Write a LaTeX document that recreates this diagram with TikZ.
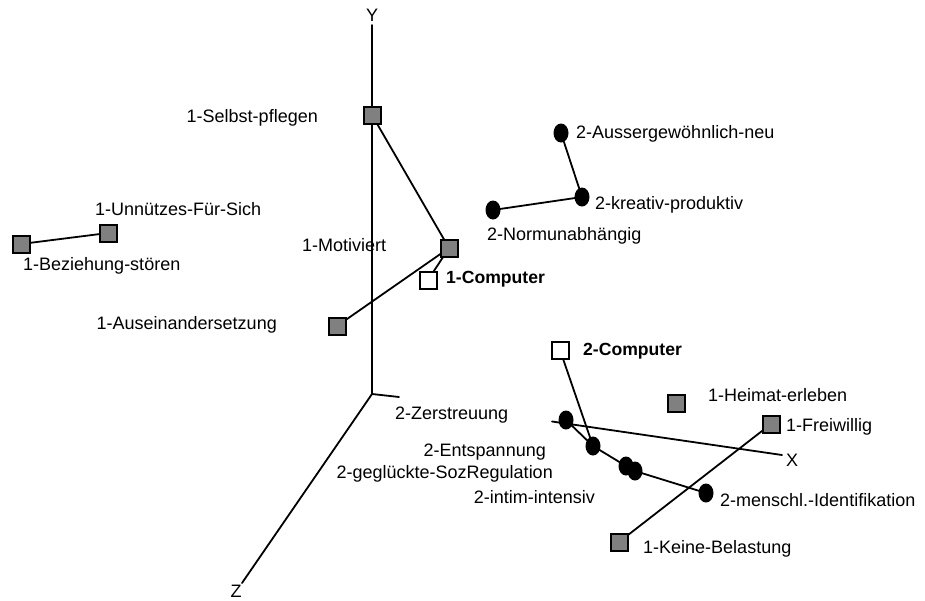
\documentclass[tikz,border=0pt]{standalone}
\usepackage{fontspec}
\setmainfont{Liberation Sans}
\usetikzlibrary{shapes.geometric}
\pgfdeclarelayer{bg}
\pgfsetlayers{bg,main}
\definecolor{boxgray}{HTML}{808080}
\begin{document}
\begin{tikzpicture}[x=1pt,y=-1pt,
  lbl/.style={inner sep=0pt, font=\fontsize{18}{20}\selectfont},
  bold/.style={lbl, font=\fontsize{17.6}{20}\selectfont\bfseries},
  sq/.style={rectangle, draw=black, line width=2pt, fill=boxgray, minimum size=17pt, inner sep=0pt},
  wsq/.style={sq, fill=white},
  dot/.style={ellipse, fill=black, minimum width=15pt, minimum height=19pt, inner sep=0pt},
  link/.style={line width=1.8pt, line cap=round}]
\useasboundingbox (0,0) rectangle (925,600);

% axes
\coordinate (o) at (372,394);
\coordinate (ytop) at (372,25);
\coordinate (zend) at (242,583);
\coordinate (xstub) at (399,397);
\coordinate (xs) at (552,421.5);
\coordinate (xe) at (782,455);
\node[lbl] (ylab) at (372,15) {Y};
\node[lbl] (xlab) at (792,460) {X};
\node[lbl] (zlab) at (236,591.5) {Z};

% group 1 (squares)
\node[sq] (selbst) at (372,115) {};
\node[sq] (motiv) at (449,248) {};
\node[wsq] (comp1) at (428,280) {};
\node[sq] (ausein) at (337,326) {};
\node[sq] (unnuetz) at (108,233) {};
\node[sq] (bezieh) at (21,244) {};
\node[wsq] (comp2) at (560,350) {};
\node[sq] (heimat) at (676,403) {};
\node[sq] (freiw) at (771,424) {};
\node[sq] (keine) at (619,542) {};

% group 2 (dots)
\node[dot] (ausserg) at (561,133) {};
\node[dot] (kreativ) at (582,197) {};
\node[dot] (normun) at (493,210) {};
\node[dot] (zerstr) at (566,420) {};
\node[dot] (entsp) at (593,446) {};
\node[dot] (gegl) at (626,466) {};
\node[dot] (intim) at (635,471) {};
\node[dot] (mensch) at (706,493) {};

% labels
\node[lbl, anchor=mid east] (l-selbst) at (318,120) {1-Selbst-pflegen};
\node[lbl, anchor=mid west] (l-unnuetz) at (95,213) {1-Unnützes-Für-Sich};
\node[lbl, anchor=mid west] (l-bezieh) at (23,268) {1-Beziehung-stören};
\node[lbl, anchor=mid west] (l-motiv) at (302,249) {1-Motiviert};
\node[bold, anchor=mid west] (l-comp1) at (446,281) {1-Computer};
\node[lbl, anchor=mid east] (l-ausein) at (277,327) {1-Auseinandersetzung};
\node[lbl, anchor=mid west] (l-ausserg) at (576,136) {2-Aussergewöhnlich-neu};
\node[lbl, anchor=mid west] (l-kreativ) at (595,207) {2-kreativ-produktiv};
\node[lbl, anchor=mid west] (l-normun) at (487,238) {2-Normunabhängig};
\node[bold, anchor=mid west] (l-comp2) at (583,353) {2-Computer};
\node[lbl, anchor=mid west] (l-zerstr) at (395,417) {2-Zerstreuung};
\node[lbl, anchor=mid east] (l-entsp) at (546,454) {2-Entspannung};
\node[lbl, anchor=mid east] (l-gegl) at (553,476) {2-geglückte-SozRegulation};
\node[lbl, anchor=mid east] (l-intim) at (595,501) {2-intim-intensiv};
\node[lbl, anchor=mid west] (l-heimat) at (708,399) {1-Heimat-erleben};
\node[lbl, anchor=mid west] (l-freiw) at (786,429) {1-Freiwillig};
\node[lbl, anchor=mid west] (l-mensch) at (720,504) {2-menschl.-Identifikation};
\node[lbl, anchor=mid west] (l-keine) at (643,551) {1-Keine-Belastung};

\begin{pgfonlayer}{bg}
  \draw[link] (ytop) -- (o) -- (zend);
  \draw[link] (o) -- (xstub);
  \draw[link] (xs) -- (xe);
  \draw[link] (selbst.center) -- (motiv.center) -- (ausein.center);
  \draw[link] (motiv.center) -- (comp1.center);
  \draw[link] (unnuetz.center) -- (bezieh.center);
  \draw[link] (ausserg.center) -- (kreativ.center) -- (normun.center);
  \draw[link] (comp2.center) -- (entsp.center);
  \draw[link] (zerstr.center) -- (entsp.center) -- (gegl.center) -- (intim.center) -- (mensch.center);
  \draw[link] (freiw.center) -- (keine.center);
\end{pgfonlayer}
\end{tikzpicture}
\end{document}
